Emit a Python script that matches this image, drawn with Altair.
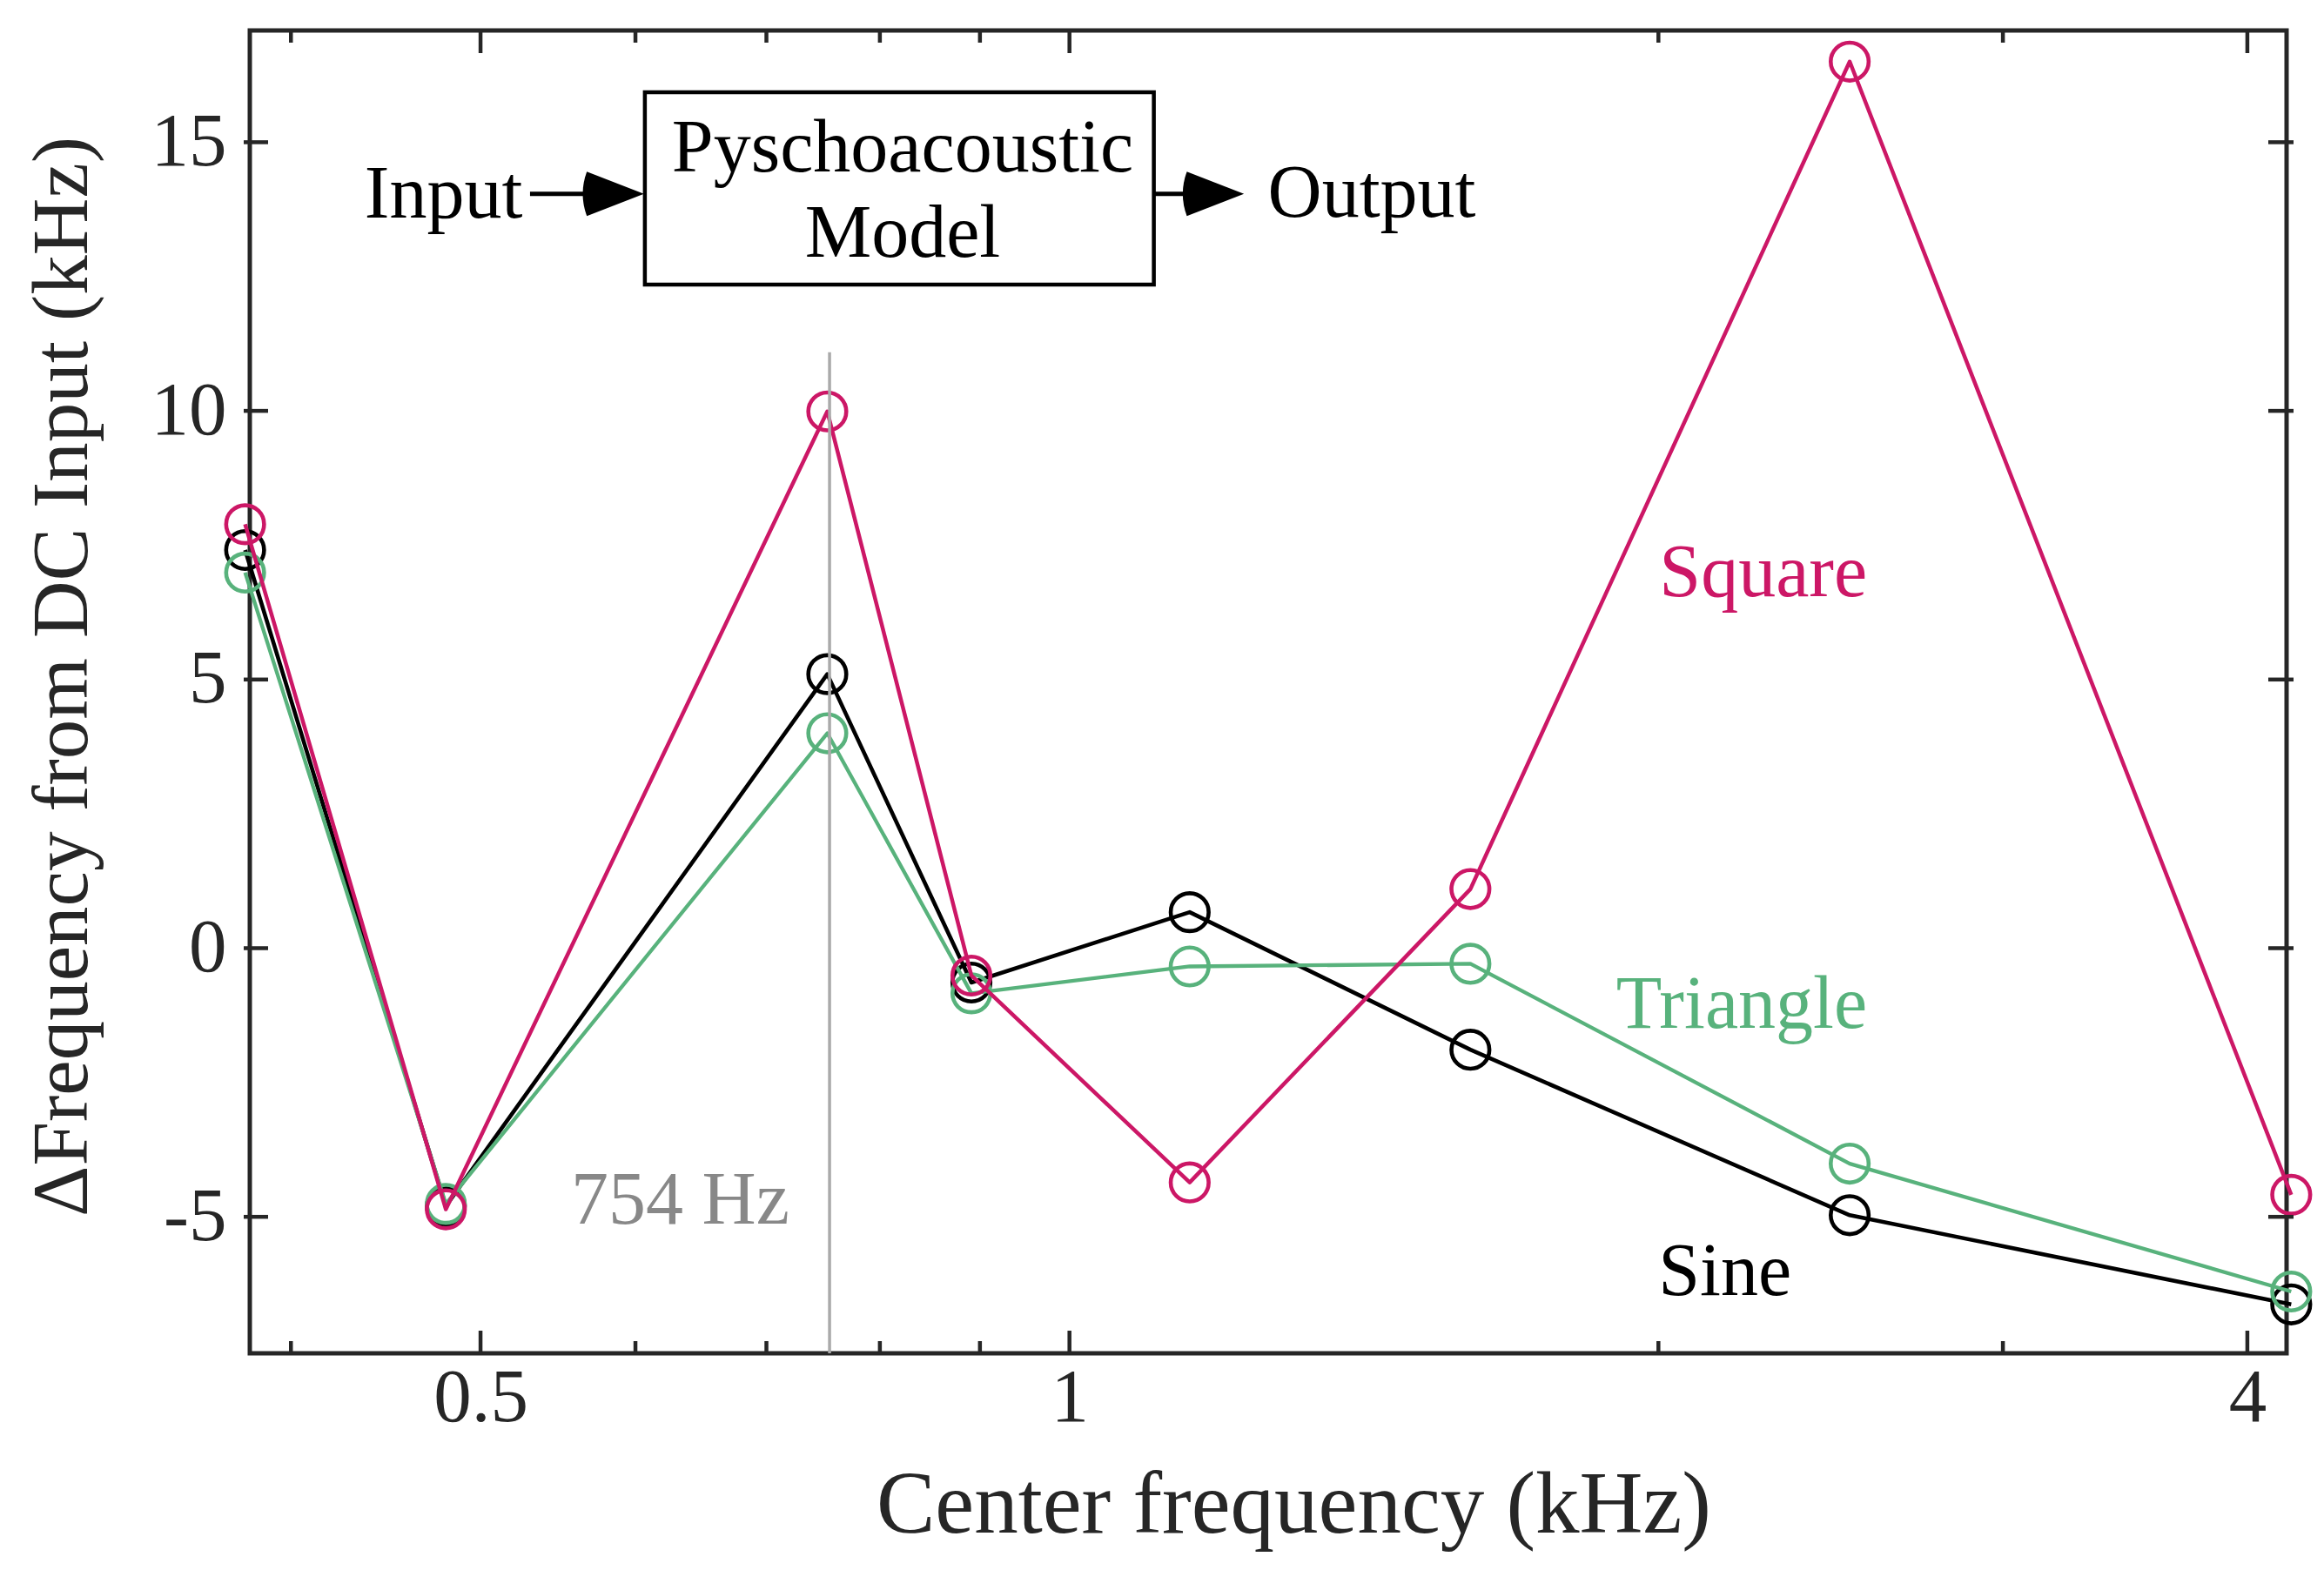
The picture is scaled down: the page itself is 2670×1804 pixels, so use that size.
import altair as alt
import pandas as pd

# ---------------- data ----------------
freq_khz = [0.379, 0.480, 0.752, 0.891, 1.152, 1.603, 2.505, 4.212]
sine = [7.41, -4.80, 5.10, -0.64, 0.67, -1.89, -4.97, -6.63]
triangle = [6.99, -4.76, 4.00, -0.84, -0.34, -0.29, -4.01, -6.39]
square = [7.89, -4.86, 9.99, -0.51, -4.36, 1.10, 16.50, -4.59]

series_names = ["Sine", "Triangle", "Square"]
series_colors = ["#000000", "#58B27C", "#CC1766"]
series_widths = [4.6, 4.3, 4.5]

x_domain = [0.3811, 4.189]
y_domain = [-7.54, 17.08]
x_major = [0.5, 1, 4]
x_minor = [0.4, 0.6, 0.7, 0.8, 0.9, 2, 3]
y_ticks = [-5, 0, 5, 10, 15]

# 754 Hz marker
marker_khz = [0.754]
marker_top = [11.09]
marker_bottom = [-7.54]
marker_text = ["754 Hz"]
marker_text_x = [0.5562]
marker_text_y = [-5.12]

# series labels
label_text = ["Square", "Triangle", "Sine"]
label_x = [2.557, 2.557, 2.339]
label_y = [6.55, -1.48, -6.45]
label_color = ["#CC1766", "#58B27C", "#000000"]

# block diagram
io_text = ["Input", "Output"]
io_x = [0.4362, 1.2629]
io_y = [13.60, 13.61]
box_text = ["Pyschoacoustic", "Model"]
box_text_x = [0.8217, 0.8217]
box_text_y = [14.46, 12.87]
box_x = [0.6067]
box_x2 = [1.1044]
box_y = [12.35]
box_y2 = [15.93]
arrow_x = [0.530, 1.1044]
arrow_x2 = [0.566, 1.1505]
arrow_y = [14.04, 14.04]
head_x = [0.5832, 1.1817]
head_y = [14.04, 14.04]

# ---------------- styling ----------------
W, H = 2340, 1520
FONT = "Liberation Serif"
AX = "#262626"
HEAD = "M-0.75,-0.68L1,0L-0.75,0.68Q-1,0,-0.75,-0.68Z"

xscale = alt.Scale(type="log", domain=x_domain, nice=False)
yscale = alt.Scale(domain=y_domain, nice=False, zero=False)

xaxis = alt.Axis(values=x_major, labelExpr="toString(datum.value)",
                 title="Center frequency (kHz)", titleFont=FONT, titleFontSize=101,
                 titleFontWeight="normal", titleColor=AX, titleX=1199, titleY=205,
                 titleAlign="center", titleBaseline="alphabetic", titleLimit=5000,
                 labelFont=FONT, labelFontSize=87, labelColor=AX, labelPadding=8,
                 labelFlush=False, labelOverlap=False, ticks=False, tickSize=0,
                 domain=False, grid=False)
yaxis = alt.Axis(values=y_ticks, labelExpr="toString(datum.value)",
                 title="ΔFrequency from DC Input (kHz)", titleFont=FONT, titleFontSize=91,
                 titleFontWeight="normal", titleColor=AX, titleX=-188, titleY=742,
                 titleAngle=270, titleAlign="center", titleBaseline="alphabetic", titleLimit=5000,
                 labelFont=FONT, labelFontSize=87, labelColor=AX, labelPadding=27,
                 labelFlush=False, labelOverlap=False, ticks=False, tickSize=0,
                 domain=False, grid=False)


def X(field="f"):
    return alt.X(f"{field}:Q", scale=xscale, axis=xaxis)


def Y(field="v"):
    return alt.Y(f"{field}:Q", scale=yscale, axis=yaxis)


layers = []

# series
for name, color, vals, sw in zip(series_names, series_colors, [sine, triangle, square], series_widths):
    df = pd.DataFrame({"f": freq_khz, "v": vals})
    layers.append(alt.Chart(df).mark_line(color=color, strokeWidth=sw, strokeJoin="round", clip=False)
                  .encode(x=X(), y=Y()))
    layers.append(alt.Chart(df).mark_point(shape="circle", size=1900, color=color, filled=False,
                                           strokeWidth=4.6, opacity=1, clip=False)
                  .encode(x=X(), y=Y()))

# 754 Hz line and label
mdf = pd.DataFrame({"f": marker_khz, "v": marker_top, "v2": marker_bottom})
layers.append(alt.Chart(mdf).mark_rule(color="#AAAAAA", strokeWidth=3.5)
              .encode(x=X(), y=Y(), y2="v2:Q"))
mtdf = pd.DataFrame({"f": marker_text_x, "v": marker_text_y, "t": marker_text})
layers.append(alt.Chart(mtdf).mark_text(font=FONT, fontSize=86, align="left", baseline="alphabetic",
                                        color="#888888")
              .encode(x=X(), y=Y(), text="t:N"))

# series labels
ldf = pd.DataFrame({"f": label_x, "v": label_y, "t": label_text, "c": label_color})
layers.append(alt.Chart(ldf).mark_text(font=FONT, fontSize=86, align="right", baseline="alphabetic")
              .encode(x=X(), y=Y(), text="t:N", color=alt.Color("c:N", scale=None)))

# block diagram
bdf = pd.DataFrame({"f": box_x, "f2": box_x2, "v": box_y, "v2": box_y2})
layers.append(alt.Chart(bdf).mark_rect(fill="white", stroke="#000000", strokeWidth=4.5)
              .encode(x=X(), x2="f2:Q", y=Y(), y2="v2:Q"))
adf = pd.DataFrame({"f": arrow_x, "f2": arrow_x2, "v": arrow_y})
layers.append(alt.Chart(adf).mark_rule(color="#000000", strokeWidth=5)
              .encode(x=X(), x2="f2:Q", y=Y()))
hdf = pd.DataFrame({"f": head_x, "v": head_y})
layers.append(alt.Chart(hdf).mark_point(shape=HEAD, size=5625, filled=True, color="#000000",
                                        opacity=1, strokeWidth=0)
              .encode(x=X(), y=Y()))
iodf = pd.DataFrame({"f": io_x, "v": io_y, "t": io_text})
layers.append(alt.Chart(iodf).mark_text(font=FONT, fontSize=86, align="left", baseline="alphabetic",
                                        color="#000000")
              .encode(x=X(), y=Y(), text="t:N"))
btdf = pd.DataFrame({"f": box_text_x, "v": box_text_y, "t": box_text})
layers.append(alt.Chart(btdf).mark_text(font=FONT, fontSize=86, align="center", baseline="alphabetic",
                                        color="#000000")
              .encode(x=X(), y=Y(), text="t:N"))

# inward ticks (box style)
xmaj = pd.DataFrame({"f": x_major})
xmin = pd.DataFrame({"f": x_minor})
for d, L in [(xmaj, 26), (xmin, 14)]:
    layers.append(alt.Chart(d).mark_rule(color=AX, strokeWidth=4.5)
                  .encode(x=X(), y=alt.value(H), y2=alt.value(H - L)))
    layers.append(alt.Chart(d).mark_rule(color=AX, strokeWidth=4.5)
                  .encode(x=X(), y=alt.value(0), y2=alt.value(L)))
yt = pd.DataFrame({"v": y_ticks})
layers.append(alt.Chart(yt).mark_rule(color=AX, strokeWidth=4.5)
              .encode(y=Y(), x=alt.value(-7), x2=alt.value(21)))
layers.append(alt.Chart(yt).mark_rule(color=AX, strokeWidth=4.5)
              .encode(y=Y(), x=alt.value(W - 21), x2=alt.value(W + 8)))

chart = (alt.layer(*layers)
         .properties(width=W, height=H,
                     autosize=alt.AutoSizeParams(type="none"),
                     padding={"left": 279, "top": 27, "right": 35, "bottom": 241},
                     background="white")
         .configure_view(stroke=AX, strokeWidth=5, strokeOpacity=1))

chart.save("out.html", embed_options={"renderer": "svg", "actions": False})
